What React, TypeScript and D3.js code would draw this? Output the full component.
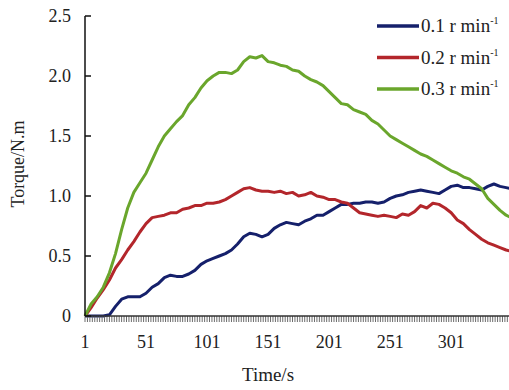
import React from 'react';
import * as d3 from 'd3';

const timeSec = [
  1, 6, 11, 16, 21, 26, 31, 36, 41, 46, 51, 56, 61, 66, 71, 76, 81, 86, 91, 96,
  101, 106, 111, 116, 121, 126, 131, 136, 141, 146, 151, 156, 161, 166, 171, 176, 181, 186, 191, 196,
  201, 206, 211, 216, 221, 226, 231, 236, 241, 246, 251, 256, 261, 266, 271, 276, 281, 286, 291, 296,
  301, 306, 311, 316, 321, 326, 331, 336, 341, 346, 350,
];

const torque01 = [
  0, 0, 0, 0, 0.01, 0.08, 0.14, 0.16, 0.16, 0.16, 0.19, 0.24, 0.27, 0.32, 0.34, 0.33, 0.33, 0.35, 0.38, 0.43,
  0.46, 0.48, 0.5, 0.52, 0.55, 0.6, 0.66, 0.69, 0.68, 0.66, 0.68, 0.73, 0.76, 0.78, 0.77, 0.76, 0.79, 0.81, 0.84, 0.84,
  0.87, 0.9, 0.93, 0.93, 0.94, 0.94, 0.95, 0.95, 0.94, 0.95, 0.98, 1.0, 1.01, 1.03, 1.04, 1.05, 1.04, 1.03, 1.02, 1.05,
  1.08, 1.09, 1.07, 1.07, 1.06, 1.05, 1.08, 1.1, 1.08, 1.07, 1.06,
];

const torque02 = [
  0, 0.07, 0.15, 0.22, 0.3, 0.4, 0.47, 0.55, 0.62, 0.7, 0.77, 0.82, 0.83, 0.84, 0.86, 0.86, 0.89, 0.9, 0.92, 0.92,
  0.94, 0.94, 0.95, 0.97, 1.0, 1.03, 1.06, 1.07, 1.05, 1.04, 1.04, 1.03, 1.04, 1.02, 1.03, 1.0, 1.01, 1.03, 1.0, 0.99,
  0.97, 0.97, 0.95, 0.94, 0.9, 0.86, 0.85, 0.84, 0.83, 0.84, 0.83, 0.82, 0.85, 0.84, 0.87, 0.92, 0.9, 0.94, 0.93, 0.9,
  0.86, 0.8, 0.77, 0.72, 0.68, 0.64, 0.61, 0.59, 0.57, 0.55, 0.54,
];

const torque03 = [
  0, 0.1, 0.16, 0.24, 0.36, 0.52, 0.72, 0.9, 1.03, 1.11, 1.19, 1.3, 1.41, 1.5, 1.56, 1.62, 1.67, 1.76, 1.82, 1.9,
  1.96, 2.0, 2.03, 2.03, 2.02, 2.05, 2.12, 2.16, 2.15, 2.17, 2.12, 2.11, 2.09, 2.08, 2.05, 2.04, 2.0, 1.97, 1.95, 1.92,
  1.87, 1.82, 1.77, 1.76, 1.72, 1.7, 1.68, 1.63, 1.6, 1.55, 1.5, 1.47, 1.44, 1.41, 1.38, 1.35, 1.33, 1.3, 1.27, 1.24,
  1.21, 1.19, 1.16, 1.14, 1.1, 1.06, 0.98, 0.93, 0.88, 0.84, 0.82,
];

const seriesNames = ['0.1 r min', '0.2 r min', '0.3 r min'];
const seriesColors = ['#15206b', '#b3262b', '#6aa62c'];
const yTicks = [0, 0.5, 1.0, 1.5, 2.0, 2.5];
const xTickLabels = [1, 51, 101, 151, 201, 251, 301];

const W = 509;
const H = 390;

export default function App() {
  const x = d3.scaleLinear().domain([1, 350]).range([85, 511]);
  const y = d3.scaleLinear().domain([0, 2.5]).range([316, 16]);
  const all = [torque01, torque02, torque03];

  const line = d3
    .line<number>()
    .x((_, i) => x(timeSec[i]))
    .y((d) => y(d));

  const txt = { fontFamily: "'Liberation Serif', 'Times New Roman', Times, serif", fill: '#222' };
  const minorTicks = d3.range(1, 352, 2);

  return (
    <svg width={W} height={H} style={{ position: 'absolute', left: 0, top: 0, background: '#fff' }}>
      <rect width={W} height={H} fill="#fff" />

      {/* series */}
      {all.map((vals, k) => (
        <path
          key={k}
          d={line(vals) || ''}
          fill="none"
          stroke={seriesColors[k]}
          strokeWidth={3}
          strokeLinejoin="round"
        />
      ))}

      {/* x axis with dense category ticks */}
      {minorTicks.map((t) => (
        <line key={t} x1={x(t)} x2={x(t)} y1={y(0)} y2={y(0) + 6} stroke="#6b6b6b" strokeWidth={1} />
      ))}
      <line x1={85} x2={W} y1={y(0)} y2={y(0)} stroke="#333" strokeWidth={1.5} />
      {xTickLabels.map((t) => (
        <text key={t} x={x(t)} y={348} fontSize={18} textAnchor="middle" style={txt}>
          {t}
        </text>
      ))}

      {/* y axis */}
      <line x1={85} x2={85} y1={y(2.5)} y2={y(0)} stroke="#111" strokeWidth={1.5} />
      {yTicks.map((v) => (
        <g key={v}>
          <line x1={85} x2={91} y1={y(v)} y2={y(v)} stroke="#111" strokeWidth={1.5} />
          <text x={71} y={y(v) + 6} fontSize={18} textAnchor="end" style={txt}>
            {v === 0 ? '0' : v.toFixed(1)}
          </text>
        </g>
      ))}

      {/* axis titles */}
      <text x={268} y={381} fontSize={19} textAnchor="middle" style={txt}>
        Time/s
      </text>
      <text transform={`translate(24,164) rotate(-90)`} fontSize={18} textAnchor="middle" style={txt}>
        Torque/N.m
      </text>

      {/* legend */}
      {seriesNames.map((name, k) => {
        const ly = 26 + k * 31.5;
        return (
          <g key={name}>
            <line x1={377} x2={419} y1={ly} y2={ly} stroke={seriesColors[k]} strokeWidth={3.5} />
            <text x={421} y={ly + 6} fontSize={19} style={txt}>
              {name}
              <tspan fontSize={10} dy={-8}>-1</tspan>
            </text>
          </g>
        );
      })}
    </svg>
  );
}
